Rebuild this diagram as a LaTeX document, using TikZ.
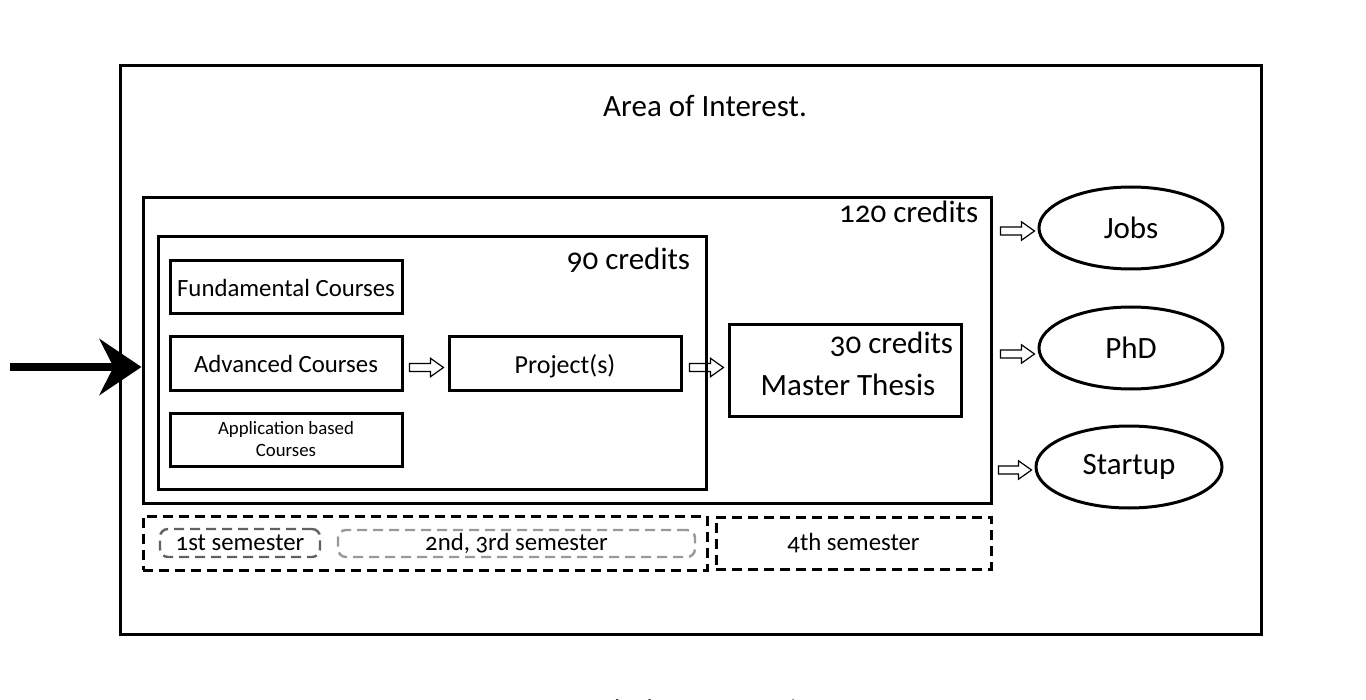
\documentclass[tikz,border=0pt]{standalone}
\usepackage{fontspec}
\setmainfont[Numbers=OldStyle]{Carlito}
\usetikzlibrary{arrows.meta,shapes.geometric,calc}
\begin{document}
\begin{tikzpicture}[x=0.5pt,y=-0.5pt,
	box/.style={draw,line width=1.5pt,inner sep=0pt},
	big/.style={font=\fontsize{15.5}{17}\selectfont},
	mid/.style={font=\fontsize{12.4}{14}\selectfont},
	course/.style={box,minimum width=116pt,minimum height=26.5pt,align=center},
	goal/.style={draw,ellipse,line width=1.5pt,minimum width=92pt,minimum height=41pt,big},
	sem/.style={draw,dashed,line width=1.5pt,dash pattern=on 5pt off 3pt,inner sep=0pt},
	phase/.style={draw,dashed,rounded corners=4pt,line width=1.2pt,dash pattern=on 5pt off 3pt,inner sep=0pt},
	dbl/.style={line width=0.6pt,line join=miter,to path={
		($(\tikztostart)+(0,2pt)$) -- ($(\tikztotarget)+(-6.5pt,2pt)$) -- ($(\tikztotarget)+(-6.5pt,4.6pt)$)
		-- (\tikztotarget) -- ($(\tikztotarget)+(-6.5pt,-4.6pt)$) -- ($(\tikztotarget)+(-6.5pt,-2pt)$)
		-- ($(\tikztostart)+(0,-2pt)$) -- cycle}},
	bigarrow/.style={line width=4pt,-{Stealth[length=21pt,width=28pt,inset=7pt]}}]
		\useasboundingbox (0,0) rectangle (1366,700);
		\node[box,minimum width=570.5pt,minimum height=284pt] (aoi) at (690.5,350) {};
		\node[big] (aoilabel) at (705,106) {Area of Interest.};
		\node[box,minimum width=424pt,minimum height=152.5pt] (c120) at (567,350.5) {};
		\node[anchor=north east,inner sep=0pt,big] (c120label) at ([xshift=-7pt,yshift=-2pt]c120.north east) {120 credits};
		\node[box,minimum width=274pt,minimum height=126pt] (c90) at (432,363) {};
		\node[anchor=north east,inner sep=0pt,big] (c90label) at ([xshift=-8.5pt,yshift=-6pt]c90.north east) {90 credits};
		\node[course,mid] (fund) at (286,287.5) {Fundamental Courses};
		\node[course,mid] (adv) at (286,363.5) {Advanced Courses};
		\node[course,font=\fontsize{9.4}{11}\selectfont] (app) at (286,439.5) {Application based\\Courses};
		\node[course] (proj) at (565,363.5) {};
		\node[font=\fontsize{13}{15}\selectfont] (projlabel) at ([yshift=-1.5pt]proj.center) {Project(s)};
		\node[box,minimum width=116pt,minimum height=45.5pt] (thesis) at (845,370.5) {};
		\node[anchor=north east,inner sep=0pt,big] (c30label) at ([xshift=-4.5pt,yshift=-4pt]thesis.north east) {30 credits};
		\node[big] (thesislabel) at (848,385) {Master Thesis};
		\node[goal] (jobs) at (1131,228) {Jobs};
		\node[goal] (phd) at (1131,348) {PhD};
		\node[goal,minimum width=93pt] (startup) at (1129,467) {Startup};
		\node[sem,minimum width=282pt,minimum height=27pt] (sem123) at (425,543) {};
		\node[sem,minimum width=137.5pt,minimum height=26pt,mid] (sem4) at (853.5,543) {4th semester};
		\node[phase,draw=black!62,minimum width=80pt,minimum height=14pt,mid] (sem1) at (240,543) {1st semester};
		\node[phase,draw=black!40,minimum width=178.5pt,minimum height=13.5pt,mid] (sem23) at (516.5,543.5) {2nd, 3rd semester};
		\node[font=\fontsize{13.5}{15}\selectfont] (caption) at (705,709) {Ideal Case Scenario};
		\coordinate (entry) at (10,367);
		\draw[bigarrow] (entry) -- (entry -| c120.west);
		\draw[dbl] ([xshift=3pt,yshift=-2pt]adv.east) to ([xshift=-2pt,yshift=-2pt]proj.west);
		\draw[dbl] ([xshift=3.5pt,yshift=-2pt]proj.east) to ([xshift=-2pt,yshift=-2pt]proj.east -| thesis.west);
		\draw[dbl] ([xshift=4pt,yshift=-1.5pt]jobs.west -| c120.east) to ([xshift=-1.5pt,yshift=-1.5pt]jobs.west);
		\draw[dbl] ([xshift=4pt,yshift=-3pt]phd.west -| c120.east) to ([xshift=-1.5pt,yshift=-3pt]phd.west);
		\draw[dbl] ([xshift=3pt,yshift=-1.5pt]startup.west -| c120.east) to ([xshift=-1.5pt,yshift=-1.5pt]startup.west);
\end{tikzpicture}
\end{document}
